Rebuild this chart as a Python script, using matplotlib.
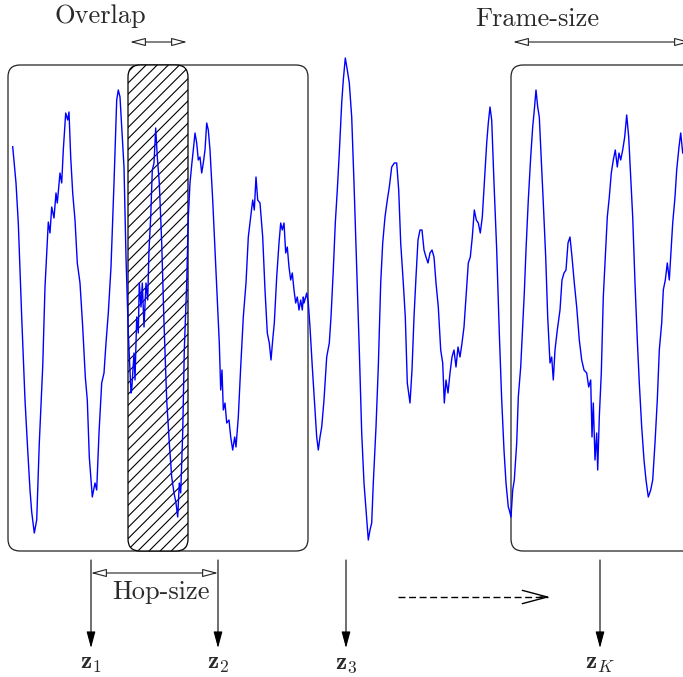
import matplotlib
matplotlib.use("Agg")
import matplotlib.pyplot as plt
from matplotlib.patches import FancyBboxPatch, FancyArrowPatch

plt.rcParams['mathtext.fontset'] = 'cm'
plt.rcParams['font.family'] = 'serif'
plt.rcParams['font.serif'] = ['cmr10', 'DejaVu Serif']
plt.rcParams['axes.formatter.use_mathtext'] = True
plt.rcParams['hatch.linewidth'] = 0.8

# waveform trace (pixel-space coordinates, y downwards)
wave_x = [12.7, 16, 18.3, 21.7, 25, 27.7, 30, 31.7, 34.3, 36.7, 39.3, 42.7, 45, 48.3, 50, 51.7, 54, 56, 57.3,
          60, 61.7, 63.3, 65.7, 67.7, 69, 70.7, 72.7, 75, 77.3, 80, 82.7, 85.3, 87.3, 89.3, 92.3, 95, 96.7,
          99, 101.7, 104, 106, 108.3, 111, 114, 116.7, 118.3, 120, 124, 126, 128.3, 131, 131.7, 134, 135,
          136.7, 138.3, 139.3, 141, 142.3, 144, 146, 147.7, 149, 150.7, 152.3, 154, 155.7, 157.3, 159.3,
          161.7, 164, 166.7, 169.3, 171.7, 174, 176, 177.7, 179.3, 180.7, 182.7, 184.3, 186.7, 188.3, 190,
          191.7, 193.3, 195, 196.7, 198.3, 200, 201.7, 203.3, 205, 206.7, 208.3, 210, 212.7, 215, 217.3,
          219.3, 220.7, 222, 223.3, 225, 226.7, 229, 230.7, 232.7, 234.7, 236, 238.3, 240.7, 243.3, 246,
          248.3, 250.7, 252.7, 254.3, 256, 257.7, 260, 262.7, 265, 267.3, 269.3, 271, 272.7, 274.3, 276.7,
          279, 280.7, 282.3, 284, 285.7, 287.3, 289, 290.7, 292.3, 294, 295.7, 297.3, 299, 300.7, 302.3,
          303.3, 304, 305.7, 306.7, 308.3, 310, 312.3, 315, 316.7, 318.3, 320, 321.7, 324, 326.7, 329.3,
          331, 333.3, 335.3, 337.3, 339.3, 341.7, 343.3, 345.3, 347.3, 349.3, 351.7, 354, 356.7, 359.3,
          361.7, 364, 366, 368.3, 370, 371.7, 373.3, 376, 378.3, 380.7, 382.7, 385, 387.3, 389.3, 391.7,
          394.3, 396.7, 398.7, 400.7, 403.3, 405.3, 407.3, 410, 412, 414, 416, 418, 420, 422, 424, 426,
          428, 430, 432, 434, 436, 438.3, 440.7, 442.7, 444.3, 446, 448, 450, 452, 454, 456, 458, 460,
          462, 464, 466, 468.3, 470.3, 472.3, 474.3, 476.3, 478.3, 480.3, 482.3, 484.3, 486.7, 488.3,
          490, 491.7, 494, 496.7, 499.3, 501.7, 504, 506, 508.3, 509.3, 511, 512.7, 514.3, 516.7, 518.3,
          520.7, 522.7, 524.3, 526, 528.3, 530.7, 532.7, 534.3, 536, 537.7, 539.3, 541, 543.3, 545.7,
          547.7, 550, 551.7, 553.3, 555, 557.3, 560, 562, 564, 566, 568, 570, 572, 574.3, 576.7, 579.3,
          581.7, 584, 586.7, 588.7, 590.7, 592, 593.3, 595, 596.7, 597.7, 599.3, 601.3, 603.3, 605.3,
          607.3, 609.3, 611.3, 613.3, 615.3, 617.3, 619, 620.7, 622.7, 624.7, 626.7, 628.7, 630.7, 632.7,
          635, 637.3, 639.3, 641.7, 644, 646, 648.3, 650.7, 652.7, 655, 657.3, 659.3, 661.7, 663.3, 665.3,
          667.3, 669.3, 670.7, 672.7, 675, 676.7, 679, 680.7, 682.7]
wave_y = [146.7, 183, 223, 317, 400, 450, 490, 512, 533, 520, 443, 367, 287, 222, 233, 207, 218, 193, 203,
          173, 183, 150, 113, 120, 112, 157, 193, 220, 263, 283, 327, 377, 400, 457, 497, 483, 490,
          433, 383, 373, 343, 313, 267, 183, 100, 90, 97, 167, 257, 333, 393, 390, 353, 380,
          317, 333, 283, 307, 283, 327, 283, 300, 250, 217, 170, 163, 128, 157, 183,
          243, 323, 400, 443, 477, 493, 503, 517, 483, 493, 433, 350, 283, 217, 183,
          165, 150, 133, 143, 160, 157, 173, 163, 150, 123, 130, 150, 200, 250, 300,
          343, 390, 370, 410, 403, 423, 420, 437, 450, 437, 447, 417, 367, 317, 283,
          237, 217, 200, 210, 177, 200, 203, 237, 290, 333, 343, 360, 340, 323, 277,
          243, 223, 230, 223, 253, 247, 267, 280, 273, 290, 303, 297, 310, 300, 310,
          297, 303, 297, 293, 303, 327, 367, 410, 437, 450, 437, 427, 400, 357, 343,
          317, 270, 223, 190, 153, 103, 80, 58, 70, 83, 117, 183, 267, 350,
          433, 483, 510, 540, 530, 523, 483, 427, 367, 283, 243, 217, 200, 187, 167,
          163, 163, 190, 243, 283, 317, 383, 403, 370, 317, 277, 240, 230, 230, 250, 257,
          263, 253, 250, 257, 283, 307, 350, 363, 403, 380, 393, 373, 357, 350, 367, 347, 357,
          343, 327, 297, 263, 257, 237, 210, 220, 223, 233, 217, 183, 143, 123,
          107, 120, 183, 250, 333, 400, 450, 483, 507, 510, 517, 490, 480, 443, 397,
          367, 327, 293, 250, 200, 157, 127, 110, 90, 107, 117, 153, 203, 257,
          317, 363, 357, 380, 350, 330, 310, 280, 273, 270, 243, 237, 257, 283, 307, 340,
          360, 370, 373, 387, 380, 437, 403, 460, 433, 470, 417, 373, 297, 257,
          217, 197, 173, 160, 150, 167, 153, 160, 150, 137, 115, 137, 177, 217,
          283, 340, 383, 427, 460, 480, 497, 490, 480, 443, 400, 350, 323, 290, 280,
          263, 280, 257, 223, 197, 170, 147, 133, 153]

# annotation layout data
frame_labels = ['Overlap', 'Frame-size', 'Hop-size']
z_labels = [r'$\mathbf{z}_1$', r'$\mathbf{z}_2$', r'$\mathbf{z}_3$', r'$\mathbf{z}_K$']
z_x = [91, 218, 346, 600]

W, H = 683, 677
fig = plt.figure(figsize=(W / 100, H / 100), dpi=100)
ax = fig.add_axes([0, 0, 1, 1])
ax.set_xlim(0, W)
ax.set_ylim(H, 0)
ax.axis('off')

ec = '#222222'
tc = '#2a2a2a'

# frames
ax.add_patch(FancyBboxPatch((8, 65), 300, 486, boxstyle='round,pad=0,rounding_size=12',
                            fc='none', ec=ec, lw=0.9, zorder=2))
ax.add_patch(FancyBboxPatch((511, 65), 200, 486, boxstyle='round,pad=0,rounding_size=12',
                            fc='none', ec=ec, lw=0.9, zorder=2))
ax.add_patch(FancyBboxPatch((128, 65), 60, 486, boxstyle='round,pad=0,rounding_size=12',
                            fc='white', ec='black', lw=0.9, hatch='///', zorder=3))

ax.plot(wave_x, wave_y, color='blue', lw=1.0, zorder=4)

# open double arrows
def dbl(x0, x1, y):
    ax.add_patch(FancyArrowPatch((x0, y), (x1, y),
                                 arrowstyle='<|-|>,head_length=0.95,head_width=0.25',
                                 mutation_scale=10, fc='white', ec=ec, lw=0.8,
                                 shrinkA=0, shrinkB=0, zorder=5))

dbl(130, 187, 42)
dbl(513, 690, 42)
dbl(91, 218, 573)

ax.text(100, 16, frame_labels[0], ha='center', va='center', fontsize=19, color=tc)
ax.text(537, 19, frame_labels[1], ha='center', va='center', fontsize=19, color=tc)
ax.text(161, 592, frame_labels[2], ha='center', va='center', fontsize=19, color=tc)

# vertical arrows and labels
for x, lab in zip(z_x, z_labels):
    ax.add_patch(FancyArrowPatch((x, 560), (x, 648),
                                 arrowstyle='-|>,head_length=1.0,head_width=0.27',
                                 mutation_scale=10, fc='black', ec='black', lw=0.8,
                                 shrinkA=0, shrinkB=0, zorder=5))
    ax.text(x, 664, lab, ha='center', va='center', fontsize=18, color=tc)

# dashed arrow: dashed shaft + solid open head
ax.plot([398, 548], [597, 597], color='black', lw=1.0, dashes=(5, 2.6), zorder=5)
ax.add_patch(FancyArrowPatch((540, 597), (550, 597),
                             arrowstyle='->,head_length=1.8,head_width=0.48',
                             mutation_scale=10, color='black', lw=1.0,
                             shrinkA=0, shrinkB=0, zorder=5))

fig.savefig('out.png', dpi=100)
